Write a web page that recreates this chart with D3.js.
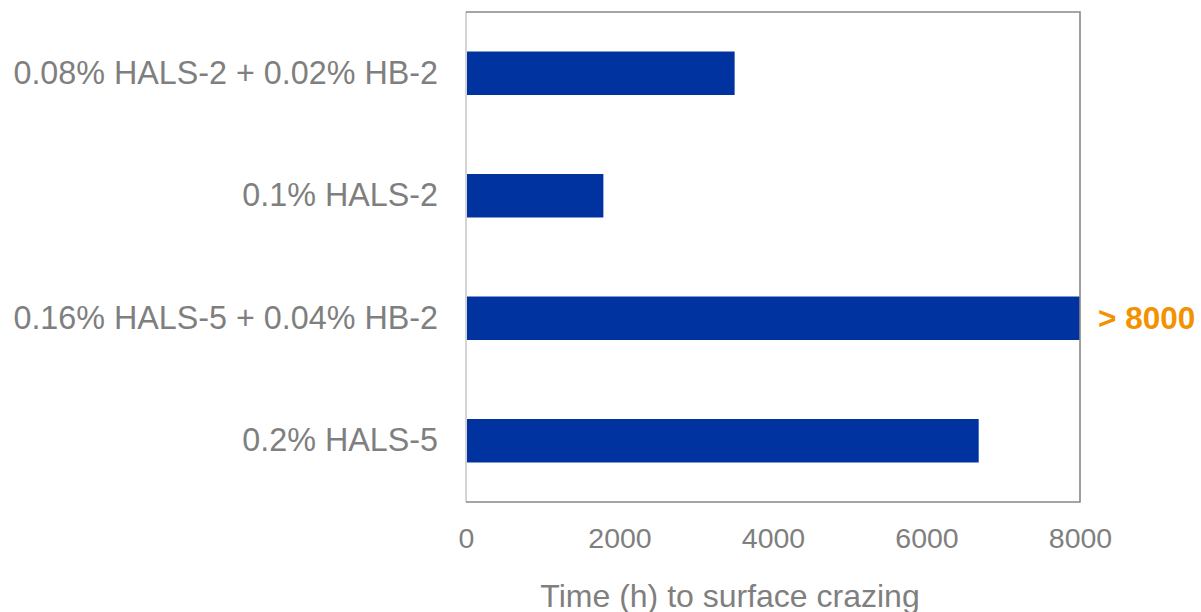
<!DOCTYPE html>
<html>
<head>
<meta charset="utf-8">
<script src="https://cdn.jsdelivr.net/npm/d3@7"></script>
<style>
  html, body { margin: 0; padding: 0; background: #fff; }
  svg { display: block; font-family: "Liberation Sans", Arial, sans-serif; }
</style>
</head>
<body>
<svg id="chart" width="1201" height="612"></svg>
<script>
// Formulations, top to bottom
const categories = [
  "0.08% HALS-2 + 0.02% HB-2",
  "0.1% HALS-2",
  "0.16% HALS-5 + 0.04% HB-2",
  "0.2% HALS-5"
];
// Hours until surface crazing appears
const hours = [3500, 1790, 8000, 6680];
// Bars that reached the end of the test without crazing
const overflowLabels = ["", "", "> 8000", ""];
const xTicks = [0, 2000, 4000, 6000, 8000];
const xTitle = "Time (h) to surface crazing";

const svg = d3.select("#chart");
const plot = { left: 466, right: 1080, top: 12, bottom: 502 };

const x = d3.scaleLinear().domain([0, 8000]).range([plot.left, plot.right]);
const y = d3.scaleBand().domain(categories).range([plot.top, plot.bottom]).paddingInner(0.645).paddingOuter(0.3225);

// Bars
svg.append("g").selectAll("rect")
  .data(categories)
  .join("rect")
  .attr("x", x(0))
  .attr("y", d => y(d))
  .attr("width", (d, i) => x(hours[i]) - x(0))
  .attr("height", y.bandwidth())
  .attr("fill", "#0033a0");

// Frame: light left axis, darker top/right/bottom
svg.append("line")
  .attr("x1", plot.left).attr("x2", plot.left)
  .attr("y1", plot.top).attr("y2", plot.bottom)
  .attr("stroke", "#d4d4d4").attr("stroke-width", 2);
svg.append("path")
  .attr("d", `M${plot.left},${plot.top}H${plot.right}V${plot.bottom}H${plot.left}`)
  .attr("fill", "none").attr("stroke", "#888").attr("stroke-width", 1.6);

// Category labels
const yAxis = d3.axisLeft(y).tickSize(0).tickPadding(28);
const gy = svg.append("g").attr("transform", `translate(${plot.left},0)`).call(yAxis);
gy.select(".domain").remove();
gy.selectAll("text")
  .attr("font-size", 32.3)
  .attr("fill", "#7f7f7f")
  .attr("font-family", "Liberation Sans, Arial, sans-serif");

// X tick labels
const xAxis = d3.axisBottom(x).tickValues(xTicks).tickSize(0).tickPadding(26).tickFormat(d3.format("d"));
const gx = svg.append("g").attr("transform", `translate(0,${plot.bottom})`).call(xAxis);
gx.select(".domain").remove();
gx.selectAll("text")
  .attr("font-size", 28.5)
  .attr("fill", "#7f7f7f")
  .attr("font-family", "Liberation Sans, Arial, sans-serif");

// Axis title
svg.append("text")
  .attr("x", 730)
  .attr("y", 596)
  .attr("dy", "0.35em")
  .attr("text-anchor", "middle")
  .attr("font-size", 32)
  .attr("fill", "#7f7f7f")
  .text(xTitle);

// Overflow annotations
svg.append("g").selectAll("text")
  .data(categories.filter((d, i) => overflowLabels[i]))
  .join("text")
  .attr("x", d => x(hours[categories.indexOf(d)]) + 18)
  .attr("y", d => y(d) + y.bandwidth() / 2)
  .attr("dy", "0.35em")
  .attr("font-size", 31.5)
  .attr("font-weight", "bold")
  .attr("fill", "#f39200")
  .text(d => overflowLabels[categories.indexOf(d)]);
</script>
</body>
</html>
